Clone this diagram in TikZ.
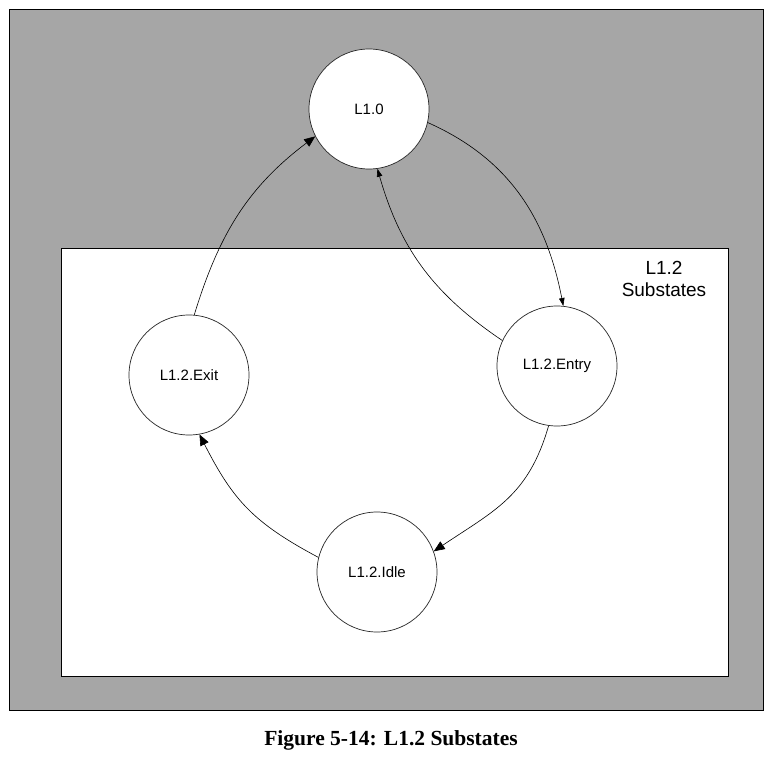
\documentclass[tikz,border=0pt]{standalone}
\usepackage{fontspec}
\setmainfont{Liberation Sans}
\newfontfamily\capfont{Liberation Serif}
\usetikzlibrary{arrows.meta}
\definecolor{bggray}{HTML}{A6A6A6}
\begin{document}
\begin{tikzpicture}[x=1pt,y=-1pt,
  state/.style={circle,draw=black!85,line width=0.7pt,fill=white,minimum size=120pt,inner sep=0pt,font=\fontsize{15}{17}\selectfont},
  conn/.style={line width=0.6pt},
  bigtip/.style={-{Triangle[length=11pt,width=9pt]}},
  smalltip/.style={-{Triangle[length=8pt,width=5.5pt]}}]
\useasboundingbox (0,0) rectangle (777,757);
\fill[white] (0,0) rectangle (777,757);
\node[draw=black,line width=0.8pt,fill=bggray,minimum width=754pt,minimum height=701pt,inner sep=0pt,anchor=north west] (outer) at (9,9) {};
\node[draw=black,line width=0.8pt,fill=white,minimum width=667pt,minimum height=428pt,inner sep=0pt,anchor=north west] (inner) at (61,248) {};
\node[align=center,font=\fontsize{19}{22}\selectfont] (lbl) at (664,279) {L1.2\\Substates};
\node[state] (l0) at (369,109) {L1.0};
\node[state] (ex) at (189,375) {L1.2.Exit};
\node[state] (en) at (557,366) {L1.2.Entry};
\node[state] (id) at (377,572) {L1.2.Idle};
\draw[conn,bigtip] (ex.85) to[out=73,in=217] (l0.207);
\draw[conn,smalltip] (l0.-13) to[out=-24,in=101] (en.84);
\draw[conn,smalltip] (en.155) to[out=146,in=286] (l0.-82);
\draw[conn,bigtip] (en.262) to[out=254,in=34,looseness=1.1] (id.20);
\draw[conn,bigtip] (id.166) to[out=152,in=297,looseness=1.1] (ex.-80);
\node[font=\capfont\bfseries\fontsize{21.5}{24}\selectfont] (cap) at (391,740) {Figure 5-14: L1.2 Substates};
\end{tikzpicture}
\end{document}
